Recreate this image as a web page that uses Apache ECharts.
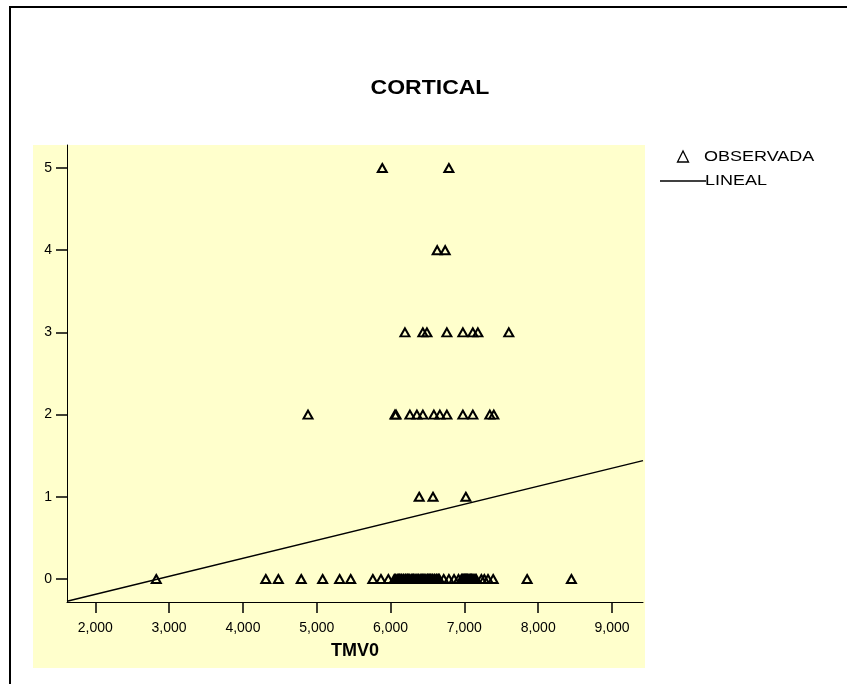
<!DOCTYPE html>
<html>
<head>
<meta charset="utf-8">
<script src="https://cdn.jsdelivr.net/npm/echarts@6/dist/echarts.min.js"></script>
<style>
  html, body { margin: 0; padding: 0; background: #ffffff; }
  #chart { width: 847px; height: 684px; }
</style>
</head>
<body>
<div id="chart"></div>
<script>
// CORTICAL score (0-5) against TMV0, with the fitted linear trend.
const obsTMV0_0 = [2826, 4310, 4480, 4790, 5080, 5310, 5460, 5760, 5870, 5970,
  6050, 6070, 6090, 6110, 6120, 6140, 6150, 6170, 6180, 6200, 6210, 6230, 6240,
  6260, 6280, 6300, 6310, 6330, 6345, 6360, 6380, 6400, 6415, 6430, 6450, 6465,
  6480, 6500, 6510, 6525, 6540, 6560, 6570, 6590, 6600, 6620, 6630, 6650, 6660,
  6720, 6790, 6860, 6920,
  6960, 6975, 6990, 7000, 7010, 7020, 7030, 7040, 7050, 7065, 7080, 7090, 7100,
  7115, 7130, 7145, 7160, 7230, 7270, 7320, 7390,
  7850, 8450];
const obsTMV0_1 = [6388, 6575, 7020];
const obsTMV0_2 = [4882, 6060, 6075, 6262, 6357, 6438, 6587, 6668, 6763, 6980, 7115, 7345, 7399];
const obsTMV0_3 = [6195, 6438, 6493, 6763, 6980, 7115, 7183, 7602];
const obsTMV0_4 = [6632, 6740];
const obsTMV0_5 = [5888, 6790];

// Fitted line (LINEAL) end points across the x range
const fitX = [1617, 9420];
const fitY = [-0.27, 1.44];

const xTicks = [2000, 3000, 4000, 5000, 6000, 7000, 8000, 9000];
const yTicks = [0, 1, 2, 3, 4, 5];

const xMin = 1617, xMax = 9420;
const yMin = -0.28, yMax = 5.28;

const groups = [obsTMV0_0, obsTMV0_1, obsTMV0_2, obsTMV0_3, obsTMV0_4, obsTMV0_5];
const observed = [];
groups.forEach((arr, score) => arr.forEach(v => observed.push([v, score])));
const fitData = fitX.map((x, i) => [x, fitY[i]]);

const FONT = '"Liberation Sans", Arial, sans-serif';
const chart = echarts.init(document.getElementById('chart'), null, { renderer: 'canvas' });

chart.setOption({
  backgroundColor: '#ffffff',
  animation: false,
  graphic: [
    // outer frame
    { type: 'rect', z: -20, shape: { x: 10, y: 7, width: 900, height: 720 },
      style: { fill: '#ffffff', stroke: '#000000', lineWidth: 2 } },
    // chart panel
    { type: 'rect', z: -10, shape: { x: 33, y: 145, width: 612, height: 523 },
      style: { fill: '#FFFFCC', stroke: null } },
    // title
    { type: 'text', x: 430, y: 88, scaleX: 1.15, originX: 0, originY: 0,
      style: { text: 'CORTICAL', font: 'bold 20px ' + FONT, fill: '#000000',
        align: 'center', verticalAlign: 'middle' } },
    // legend
    { type: 'polygon', shape: { points: [[683, 151], [677.5, 162], [688.5, 162]] },
      style: { fill: 'none', stroke: '#000000', lineWidth: 1.3 } },
    { type: 'text', x: 704, y: 157, scaleX: 1.2,
      style: { text: 'OBSERVADA', font: '15px ' + FONT, fill: '#000000', verticalAlign: 'middle' } },
    { type: 'line', shape: { x1: 660, y1: 181, x2: 706, y2: 181 },
      style: { stroke: '#000000', lineWidth: 1.3 } },
    { type: 'text', x: 705, y: 181, scaleX: 1.2,
      style: { text: 'LINEAL', font: '15px ' + FONT, fill: '#000000', verticalAlign: 'middle' } }
  ],
  grid: { left: 67, right: 204, top: 145, bottom: 82, containLabel: false },
  xAxis: {
    type: 'value', min: xMin, max: xMax,
    name: 'TMV0', nameLocation: 'middle', nameGap: 40,
    nameTextStyle: { fontFamily: FONT, fontSize: 18, fontWeight: 'bold', color: '#000000' },
    axisLine: { show: true, onZero: false, lineStyle: { color: '#000000', width: 1 } },
    axisTick: { show: true, inside: false, length: 11, customValues: xTicks,
      lineStyle: { color: '#000000', width: 1.5 } },
    axisLabel: { customValues: xTicks, margin: 19, fontFamily: FONT, fontSize: 14, color: '#000000',
      formatter: v => Number(v).toLocaleString('en-US') },
    splitLine: { show: false }
  },
  yAxis: {
    type: 'value', min: yMin, max: yMax,
    axisLine: { show: true, onZero: false, lineStyle: { color: '#000000', width: 1 } },
    axisTick: { show: true, inside: false, length: 11, customValues: yTicks,
      lineStyle: { color: '#000000', width: 1.5 } },
    axisLabel: { customValues: yTicks, margin: 15, fontFamily: FONT, fontSize: 14, color: '#000000' },
    splitLine: { show: false }
  },
  series: [
    {
      name: 'OBSERVADA', type: 'scatter', data: observed,
      symbol: 'triangle', symbolSize: [9, 8],
      itemStyle: { color: 'transparent', borderColor: '#000000', borderWidth: 2, opacity: 1 },
      emphasis: { disabled: true }, z: 3
    },
    {
      name: 'LINEAL', type: 'line', data: fitData,
      showSymbol: false, symbol: 'none',
      lineStyle: { color: '#000000', width: 1.5 },
      emphasis: { disabled: true }, z: 2
    }
  ]
});
</script>
</body>
</html>
